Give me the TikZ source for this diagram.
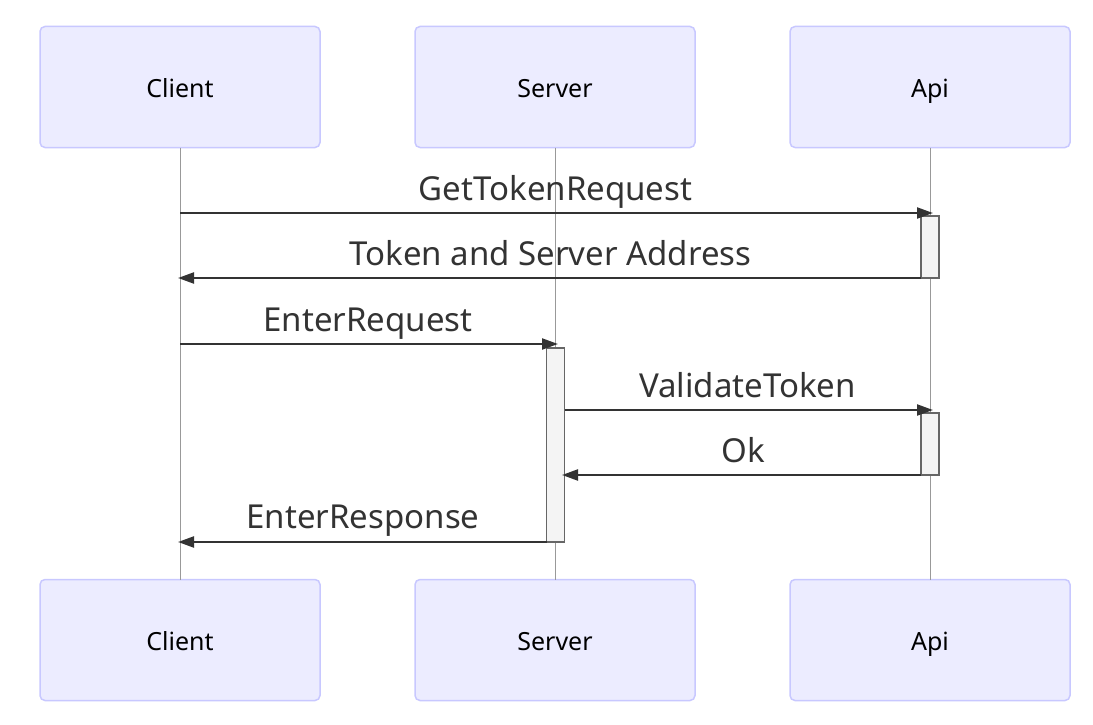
\documentclass[tikz,border=0pt]{standalone}
\usepackage{fontspec}
\setmainfont{Noto Sans}
\usetikzlibrary{arrows.meta}
\definecolor{actfill}{HTML}{ECECFF}
\definecolor{actdraw}{HTML}{C8C8FF}
\definecolor{linecol}{HTML}{333333}
\definecolor{lifecol}{HTML}{999999}
\definecolor{actvfill}{HTML}{F4F4F4}
\definecolor{actvdraw}{HTML}{666666}
\tikzset{
  actor/.style={draw=actdraw, fill=actfill, line width=1.5pt, rounded corners=5pt,
    minimum width=280pt, minimum height=121pt, inner sep=0pt, outer sep=0pt,
    text height=20pt, text depth=0pt,
    font=\fontsize{25}{28}\selectfont, text=black},
  lifeline/.style={draw=lifecol, line width=0.9pt},
  activation/.style={draw=actvdraw, fill=actvfill, line width=1.5pt, minimum width=18pt, inner sep=0pt, outer sep=0pt},
  msg/.style={draw=linecol, line width=2.2pt, -{Triangle[length=16pt,width=11pt]}},
  msglabel/.style={font=\fontsize{33}{36}\selectfont, text=linecol, anchor=base, inner sep=0pt}
}
\begin{document}
\begin{tikzpicture}[x=1pt,y=-1pt]
\path[fill=white] (0,0) rectangle (1093,725);
\useasboundingbox (0,0) rectangle (1093,725);
% actors
\node[actor] (cTop) at (180,87) {Client};
\node[actor] (sTop) at (555,87) {Server};
\node[actor] (aTop) at (930,87) {Api};
\node[actor] (cBot) at (180,640) {Client};
\node[actor] (sBot) at (555,640) {Server};
\node[actor] (aBot) at (930,640) {Api};
% lifelines
\draw[lifeline] (cTop.south) -- (cBot.north);
\draw[lifeline] (sTop.south) -- (sBot.north);
\draw[lifeline] (aTop.south) -- (aBot.north);
% activations
\node[activation, minimum height=62pt, anchor=north] (act1) at (930,216) {};
\node[activation, minimum height=194pt, anchor=north] (act2) at (555.5,348) {};
\node[activation, minimum height=62pt, anchor=north] (act3) at (930,413) {};
% coordinates
\coordinate (c1) at (180,213);
\coordinate (a1) at (933,213);
\coordinate (c2) at (178,278);
\coordinate (c3) at (180,344);
\coordinate (s3) at (558,344);
\coordinate (a4) at (933,410);
\coordinate (s5) at (562,475);
\coordinate (c6) at (178,542);
% messages
\draw[msg] (c1) -- (a1);
\node[msglabel] (l1) at (555.5,200) {GetTokenRequest};
\draw[msg] (act1.west |- c2) -- (c2);
\node[msglabel] (l2) at (550.5,265) {Token and Server Address};
\draw[msg] (c3) -- (s3);
\node[msglabel] (l3) at (368,331) {EnterRequest};
\draw[msg] (act2.east |- a4) -- (a4);
\node[msglabel] (l4) at (747.5,397) {ValidateToken};
\draw[msg] (act3.west |- s5) -- (s5);
\node[msglabel] (l5) at (743.5,462) {Ok};
\draw[msg] (act2.west |- c6) -- (c6);
\node[msglabel] (l6) at (363,528) {EnterResponse};
\end{tikzpicture}
\end{document}
